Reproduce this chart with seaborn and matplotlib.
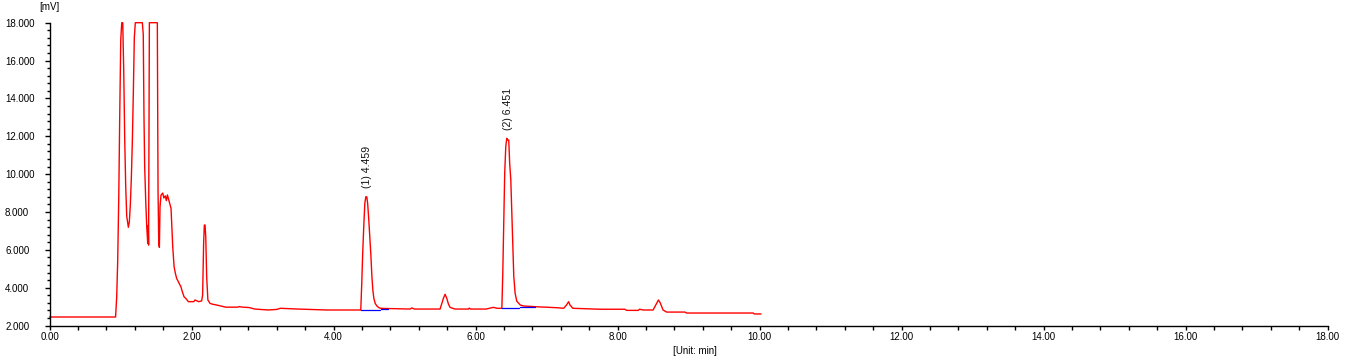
import numpy as np
import pandas as pd
import seaborn as sns
import matplotlib.pyplot as plt
from matplotlib.ticker import MultipleLocator, FormatStrFormatter

# chromatogram trace (min, mV); detector saturates at 18
time_min = [0.00, 0.93, 0.946, 0.96, 0.975, 0.989, 1.003, 1.017, 1.031, 1.045,
            1.059, 1.073, 1.087, 1.11, 1.124, 1.138, 1.152, 1.166, 1.18, 1.194,
            1.208, 1.307, 1.32, 1.33, 1.34, 1.355, 1.369, 1.383, 1.39, 1.395,
            1.406, 1.518, 1.528, 1.538, 1.547, 1.556, 1.57, 1.594, 1.61, 1.63,
            1.645, 1.66, 1.711, 1.735, 1.754, 1.772, 1.79, 1.814, 1.838, 1.85,
            1.87, 1.894, 1.92, 1.955, 2.03, 2.05, 2.10, 2.142, 2.156, 2.17,
            2.18, 2.19, 2.20, 2.213, 2.23, 2.26, 2.30, 2.33, 2.38, 2.48,
            2.65, 2.67, 2.72, 2.81, 2.89, 3.08, 3.20, 3.25, 3.50, 3.90,
            4.383, 4.397, 4.41, 4.425, 4.44, 4.454, 4.468, 4.48, 4.496, 4.51,
            4.524, 4.54, 4.553, 4.567, 4.586, 4.61, 4.64, 4.66, 4.73, 5.08,
            5.10, 5.14, 5.50, 5.525, 5.547, 5.57, 5.594, 5.617, 5.64, 5.71,
            5.90, 5.91, 5.93, 6.15, 6.25, 6.30, 6.37, 6.383, 6.397, 6.41,
            6.425, 6.439, 6.453, 6.467, 6.48, 6.496, 6.51, 6.524, 6.538, 6.557,
            6.58, 6.63, 6.68, 6.86, 7.15, 7.24, 7.28, 7.31, 7.33, 7.37,
            7.75, 8.10, 8.13, 8.29, 8.31, 8.36, 8.50, 8.55, 8.575, 8.60,
            8.64, 8.69, 8.95, 8.97, 9.91, 9.925, 10.02]
signal_mv = [2.45, 2.45, 3.52, 5.42, 8.80, 13.2, 17.1, 18.0, 18.0, 15.46,
             11.8, 9.33, 7.78, 7.19, 7.48, 8.40, 9.78, 11.7, 14.27, 17.2,
             18.0, 18.0, 17.38, 13.07, 10.39, 8.54, 7.22, 6.34, 7.3, 6.25,
             18.0, 18.0, 9.16, 6.34, 6.13, 8.28, 8.89, 9.0, 8.74, 8.85,
             8.6, 8.9, 8.19, 6.17, 5.11, 4.76, 4.49, 4.31, 4.14, 4.05,
             3.79, 3.52, 3.43, 3.26, 3.26, 3.35, 3.26, 3.30, 3.61, 6.34,
             7.31, 7.31, 6.69, 4.58, 3.35, 3.17, 3.12, 3.10, 3.06, 2.97,
             2.97, 3.00, 2.97, 2.95, 2.87, 2.82, 2.85, 2.91, 2.87, 2.82,
             2.82, 4.23, 5.81, 7.22, 8.45, 8.80, 8.80, 8.45, 7.57, 6.69,
             5.81, 4.58, 3.88, 3.44, 3.17, 3.03, 2.94, 2.91, 2.90, 2.87,
             2.93, 2.87, 2.87, 3.17, 3.44, 3.65, 3.44, 3.14, 2.96, 2.87,
             2.87, 2.92, 2.87, 2.87, 2.96, 2.91, 2.91, 4.76, 7.40, 10.04,
             11.45, 11.89, 11.80, 11.80, 10.57, 9.69, 7.93, 6.17, 4.58, 3.70,
             3.29, 3.08, 3.03, 2.99, 2.94, 2.91, 3.08, 3.26, 3.08, 2.91,
             2.86, 2.86, 2.80, 2.80, 2.86, 2.82, 2.82, 3.17, 3.35, 3.20,
             2.82, 2.71, 2.71, 2.66, 2.66, 2.61, 2.61]

# integration baselines (start, end, level)
base_start = [4.383, 4.665, 6.37, 6.62]
base_end = [4.655, 4.77, 6.61, 6.84]
base_level = [2.82, 2.86, 2.91, 2.96]

peak_times = [4.459, 6.451]
peak_heights = [8.80, 11.89]
peak_labels = ['(1) 4.459', '(2) 6.451']

sns.set_style('ticks')
plt.rcParams['font.family'] = ['Liberation Sans', 'DejaVu Sans']

df = pd.DataFrame({'time': time_min, 'mV': signal_mv})

fig = plt.figure(figsize=(13.46, 3.61), dpi=100)
ax = fig.add_axes([0.0368, 0.0983, 0.9496, 0.8388])

sns.lineplot(data=df, x='time', y='mV', ax=ax, color='#ff0000', lw=1.0,
             estimator=None, sort=False, clip_on=False)

for s, e, lv in zip(base_start, base_end, base_level):
    ax.plot([s, e], [lv, lv], color='#0000ff', lw=0.9, zorder=3)

for t, h, lab in zip(peak_times, peak_heights, peak_labels):
    ax.text(t + 0.01, h + 0.45, lab, rotation=90, ha='center', va='bottom',
            fontsize=7.6, color='#111111')

ax.set_xlim(0, 18)
ax.set_ylim(2, 18)
ax.xaxis.set_major_locator(MultipleLocator(2))
ax.xaxis.set_minor_locator(MultipleLocator(0.4))
ax.yaxis.set_major_locator(MultipleLocator(2))
ax.yaxis.set_minor_locator(MultipleLocator(0.4))
ax.xaxis.set_major_formatter(FormatStrFormatter('%.2f'))
ax.yaxis.set_major_formatter(FormatStrFormatter('%.3f'))

ax.tick_params(axis='x', which='both', length=3, width=1, pad=2,
               labelsize=7, colors='black')
ax.tick_params(axis='y', which='major', length=3.6, width=1, pad=28.4,
               labelsize=7, colors='black')
ax.tick_params(axis='y', which='minor', length=2, width=1, colors='black')
for lab in ax.get_yticklabels():
    lab.set_horizontalalignment('left')

ax.set_xlabel('')
ax.set_ylabel('')
ax.text(0.5048, -0.083, '[Unit: min]', transform=ax.transAxes,
        ha='center', va='center', fontsize=7, color='black')
ax.text(0.0, 1.052, '[mV]', transform=ax.transAxes,
        ha='center', va='center', fontsize=7, color='black')

sns.despine(ax=ax)
for sp in ['left', 'bottom']:
    ax.spines[sp].set_linewidth(1.0)
    ax.spines[sp].set_color('black')

fig.savefig('out.png', dpi=100)
